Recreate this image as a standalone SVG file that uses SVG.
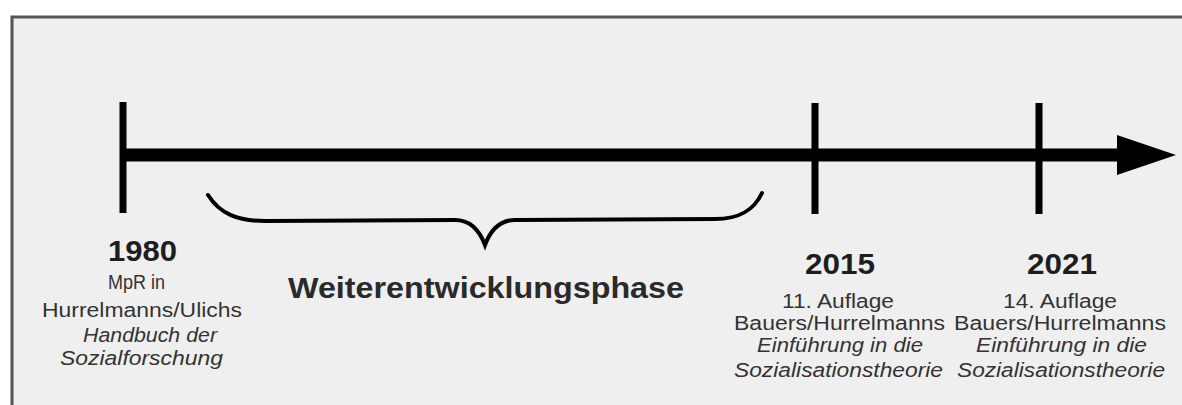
<svg xmlns="http://www.w3.org/2000/svg" width="1182" height="405" viewBox="0 0 1182 405">
  <defs>
    <style>
      .year { font-family: "Liberation Sans", Arial, sans-serif; font-weight: bold; font-size: 30px; fill: #1e1e1e; }
      .phase { font-family: "Liberation Sans", Arial, sans-serif; font-weight: bold; font-size: 30px; fill: #2a2a2a; }
      .lbl { font-family: "Liberation Sans", Arial, sans-serif; font-size: 20px; fill: #333333; }
      .it { font-style: italic; }
      .tick { stroke: #000; stroke-width: 7; }
      .axis { stroke: #000; stroke-width: 13; }
    </style>
  </defs>
  <rect x="0" y="0" width="1182" height="405" fill="#ffffff"/>
  <rect x="12" y="17" width="1190" height="400" fill="#efefef" stroke="#555555" stroke-width="3"/>

  <g id="connectors">
    <line class="axis" x1="123" y1="155" x2="1122" y2="155"/>
    <polygon points="1117,135 1176,155 1117,175" fill="#000"/>
    <path id="brace" d="M208,195 C220,214 238,221 265,221 L455,220 C470,220 479,229 485,245 C491,229 500,220 515,220 L715,219 C740,219 754,210 762,193" fill="none" stroke="#000" stroke-width="4" stroke-linecap="round"/>
  </g>

  <g id="node-1980">
    <line class="tick" x1="123" y1="102" x2="123" y2="213"/>
    <text class="year" x="108" y="261" textLength="69" lengthAdjust="spacingAndGlyphs">1980</text>
    <text class="lbl" x="108" y="289" textLength="57" lengthAdjust="spacingAndGlyphs">MpR in</text>
    <text class="lbl" x="42" y="317" textLength="200" lengthAdjust="spacingAndGlyphs">Hurrelmanns/Ulichs</text>
    <text class="lbl it" x="83" y="342" textLength="134" lengthAdjust="spacingAndGlyphs">Handbuch der</text>
    <text class="lbl it" x="60" y="365" textLength="163" lengthAdjust="spacingAndGlyphs">Sozialforschung</text>
  </g>

  <g id="node-phase">
    <text class="phase" x="288" y="298" textLength="396" lengthAdjust="spacingAndGlyphs">Weiterentwicklungsphase</text>
  </g>

  <g id="node-2015">
    <line class="tick" x1="815" y1="103" x2="815" y2="214"/>
    <text class="year" x="805" y="274" textLength="70" lengthAdjust="spacingAndGlyphs">2015</text>
    <text class="lbl" x="782" y="308" textLength="112" lengthAdjust="spacingAndGlyphs">11. Auflage</text>
    <text class="lbl" x="734" y="330" textLength="211" lengthAdjust="spacingAndGlyphs">Bauers/Hurrelmanns</text>
    <text class="lbl it" x="757" y="352" textLength="166" lengthAdjust="spacingAndGlyphs">Einführung in die</text>
    <text class="lbl it" x="734" y="377" textLength="209" lengthAdjust="spacingAndGlyphs">Sozialisationstheorie</text>
  </g>

  <g id="node-2021">
    <line class="tick" x1="1039" y1="103" x2="1039" y2="214"/>
    <text class="year" x="1027" y="274" textLength="70" lengthAdjust="spacingAndGlyphs">2021</text>
    <text class="lbl" x="1003" y="308" textLength="114" lengthAdjust="spacingAndGlyphs">14. Auflage</text>
    <text class="lbl" x="954" y="330" textLength="212" lengthAdjust="spacingAndGlyphs">Bauers/Hurrelmanns</text>
    <text class="lbl it" x="976" y="352" textLength="171" lengthAdjust="spacingAndGlyphs">Einführung in die</text>
    <text class="lbl it" x="957" y="377" textLength="208" lengthAdjust="spacingAndGlyphs">Sozialisationstheorie</text>
  </g>
</svg>
